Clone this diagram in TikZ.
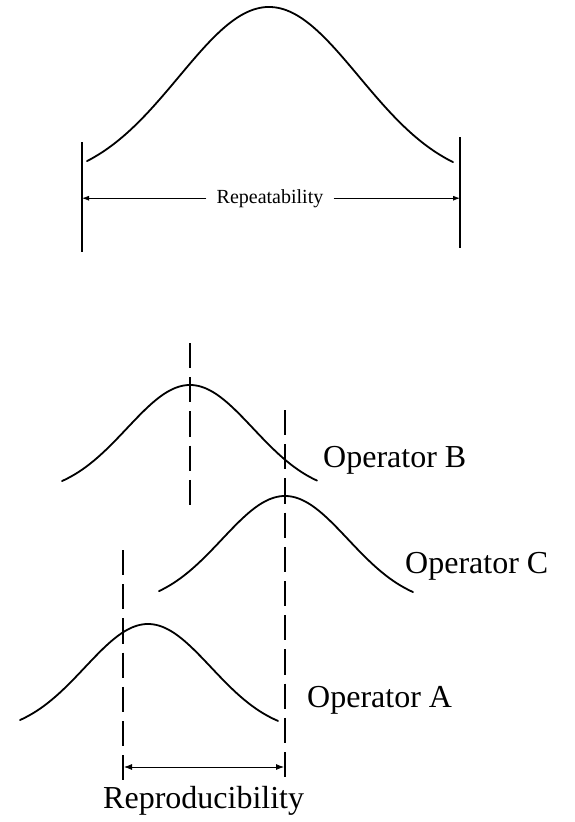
\documentclass[tikz,border=0pt]{standalone}
\usepackage{fontspec}
\setmainfont{Liberation Serif}
\usetikzlibrary{arrows.meta}
\begin{document}
\begin{tikzpicture}[x=1pt,y=-1pt,
  curve/.style={line width=1.8pt, line cap=round},
  vline/.style={line width=1.6pt},
  dline/.style={line width=1.8pt, dash pattern=on 25.2pt off 9pt},
  dim/.style={line width=0.8pt, {Latex[length=8pt,width=6pt]}-{Latex[length=8pt,width=6pt]}},
  half/.style={line width=0.8pt, -{Latex[length=7pt,width=5pt]}},
  lbl/.style={font=\fontsize{32}{36}\selectfont, inner sep=0pt}]
\useasboundingbox (0,0) rectangle (575,822);

% top curve (repeatability)
\draw[curve] plot[domain=-182:184, samples=120] ({269+\x},{184-177*exp(-0.5*(\x/90)^2)});
\coordinate (lt) at (82,142);
\coordinate (lb) at (82,252);
\coordinate (rt) at (460,137);
\coordinate (rb) at (460,248);
\draw[vline] (lt) -- (lb);
\draw[vline] (rt) -- (rb);
\node[font=\fontsize{20}{24}\selectfont, anchor=base, inner xsep=10pt, inner ysep=0pt] (rep) at (270,203) {Repeatability};
\draw[half] (rep.west) -- (rep.west -| lt);
\draw[half] (rep.east) -- (rep.east -| rt);

% operator curves
\draw[curve] plot[domain=-128:127, samples=100] ({190+\x},{495-110*exp(-0.5*(\x/63)^2)});
\draw[curve] plot[domain=-126:128, samples=100] ({285+\x},{606-110*exp(-0.5*(\x/63)^2)});
\draw[curve] plot[domain=-128:130, samples=100] ({148+\x},{734-110*exp(-0.5*(\x/63)^2)});

% dashed centre lines
\coordinate (bt) at (190,343);
\coordinate (bb) at (190,505);
\coordinate (ct) at (285,410);
\coordinate (cb) at (285,778);
\coordinate (at) at (123,550);
\coordinate (ab) at (123,780);
\draw[dline] (bt) -- (bb);
\draw[dline] (ct) -- (cb);
\draw[dline] (at) -- (ab);

% labels
\node[lbl, anchor=base west] (opB) at (323,467) {Operator B};
\node[lbl, anchor=base west] (opC) at (405,573) {Operator C};
\node[lbl, anchor=base west] (opA) at (307,707) {Operator A};

% reproducibility
\coordinate (ra) at (124,767);
\coordinate (rc) at (284,767);
\draw[dim] (ra) -- (rc);
\node[lbl, anchor=base west] (repro) at (103,808) {Reproducibility};
\end{tikzpicture}
\end{document}
